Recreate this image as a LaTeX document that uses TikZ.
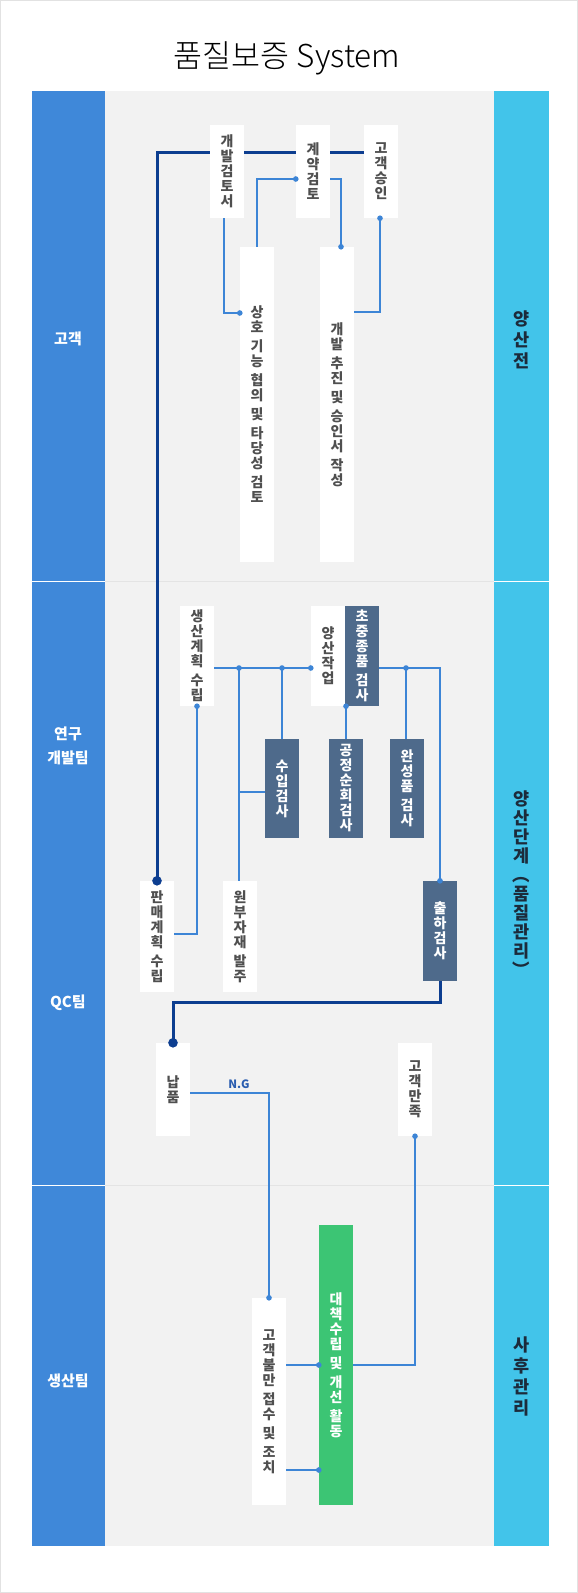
\documentclass[tikz,border=0pt]{standalone}
\usepackage{fontspec}
\setmainfont{Noto Sans CJK KR}
\newfontfamily\titlefont{Noto Sans CJK KR Light}
\usetikzlibrary{calc}
\definecolor{colblue}{HTML}{3F88D9}
\definecolor{colcyan}{HTML}{42C4EA}
\definecolor{bggray}{HTML}{F2F2F2}
\definecolor{sepgray}{HTML}{E4E4E4}
\definecolor{thinblue}{HTML}{3D85D6}
\definecolor{navy}{HTML}{0D3E90}
\definecolor{darkbox}{HTML}{4E6A8B}
\definecolor{greenbox}{HTML}{3CC574}
\definecolor{boxtext}{HTML}{4F4F4F}
\definecolor{rtext}{HTML}{1C2B3B}
\definecolor{ngblue}{HTML}{2A5DB0}
\definecolor{framegray}{HTML}{E2E2E2}
\pgfdeclarelayer{back}\pgfdeclarelayer{mid}\pgfdeclarelayer{front}
\pgfsetlayers{back,mid,main,front}
\tikzset{
 box/.style={minimum width=34pt, inner sep=0pt, align=center, font=\bfseries\fontsize{14}{15}\selectfont},
 wbox/.style={box, fill=white, text=boxtext},
 dbox/.style={box, fill=darkbox, text=white},
 gbox/.style={box, fill=greenbox, text=white},
 ln/.style={draw=thinblue, line width=1.2pt},
 navyln/.style={draw=navy, line width=3pt},
 lanelabel/.style={text=white, font=\bfseries\fontsize{15}{24}\selectfont, align=center},
 phaselabel/.style={text=rtext, font=\bfseries\fontsize{17.5}{21}\selectfont, align=center},
 sdot/.style={fill=thinblue},
 bdot/.style={fill=navy},
}
\begin{document}
\begin{tikzpicture}[x=1pt,y=-1pt]
\useasboundingbox (0,0) rectangle (578,1593);
\begin{pgfonlayer}{back}
\fill[white] (0,0) rectangle (578,1593);
\draw[framegray, line width=1pt] (0.5,0.5) rectangle (577.5,1592.5);
\fill[bggray] (105,91) rectangle (494,1546);
\fill[colblue] (32,91) rectangle (105,1546);
\fill[colcyan] (494,91) rectangle (549,1546);
\foreach \yy in {581,1185}{
 \draw[sepgray, line width=1pt] (105,\yy) -- (494,\yy);
 \draw[white, line width=1pt] (32,\yy) -- (105,\yy);
 \draw[white, line width=1pt] (494,\yy) -- (549,\yy);
}
\end{pgfonlayer}

\node[font=\titlefont\fontsize{31.5}{36}\selectfont, text=black] (title) at (287,58) {품질보증 System};

% lane labels
\node[lanelabel] (l1) at (68,339) {고객};
\node[lanelabel] (l2) at (68,746) {연구\\개발팀};
\node[lanelabel] (l3) at (68,1003) {QC팀};
\node[lanelabel] (l4) at (68,1381) {생산팀};
\node[phaselabel] (p1) at (521.5,340) {양\\산\\전};
\node[phaselabel, font=\bfseries\fontsize{17.5}{19}\selectfont] (p2) at (521.5,884) {양\\산\\단\\계\\︵\\품\\질\\관\\리\\︶};
\node[phaselabel] (p3) at (521.5,1376) {사\\후\\관\\리};

% lane 1 boxes
\node[wbox, minimum height=93pt] (A) at (227,171.5) {개\\발\\검\\토\\서};
\node[wbox, minimum height=93pt] (B) at (313,171.5) {계\\약\\검\\토};
\node[wbox, minimum height=93pt] (C) at (381,171.5) {고\\객\\승\\인};
\node[wbox, minimum height=315pt] (D) at (257,404.5) {상\\호\\[4pt]기\\능\\[4pt]협\\의\\[4pt]및\\[4pt]타\\당\\성\\[4pt]검\\토};
\node[wbox, minimum height=315pt] (E) at (337,404.5) {개\\발\\[4pt]추\\진\\[4pt]및\\[4pt]승\\인\\서\\[4pt]작\\성};

% lane 2 boxes
\node[wbox, minimum height=100pt] (F) at (197,656) {생\\산\\계\\획\\[4pt]수\\립};
\node[wbox, minimum height=100pt] (G) at (328,656) {양\\산\\작\\업};
\node[dbox, minimum height=100pt] (H) at (362,656) {초\\중\\종\\품\\[4pt]검\\사};
\node[dbox, minimum height=99pt] (I) at (282,788.5) {수\\입\\검\\사};
\node[dbox, minimum height=99pt] (J) at (346,788.5) {공\\정\\순\\회\\검\\사};
\node[dbox, minimum height=99pt] (K) at (407,788.5) {완\\성\\품\\[4pt]검\\사};
\node[wbox, minimum height=111pt] (L) at (157,936.5) {판\\매\\계\\획\\[4pt]수\\립};
\node[wbox, minimum height=111pt] (M) at (240,936.5) {원\\부\\자\\재\\[4pt]발\\주};
\node[dbox, minimum height=100pt] (N) at (440,931) {출\\하\\검\\사};
\node[wbox, minimum height=93pt] (O) at (173,1089.5) {납\\품};
\node[wbox, minimum height=93pt] (P) at (415,1089.5) {고\\객\\만\\족};

% lane 3 boxes
\node[wbox, minimum height=207pt] (Q) at (269,1401.5) {고\\객\\불\\만\\[4pt]접\\수\\[4pt]및\\[4pt]조\\치};
\node[gbox, minimum height=280pt] (R) at (336,1365) {대\\책\\수\\립\\[4pt]및\\[4pt]개\\선\\[4pt]활\\동};

\node[font=\bfseries\fontsize{11.5}{13}\selectfont, text=ngblue] (ng) at (239,1084) {N.G};

\coordinate (hl) at (0,668);
\coordinate (j1) at (239,668);
\coordinate (j2) at (282,668);
\coordinate (j3) at (406,668);
\coordinate (ein) at ([xshift=4pt]E.north);
\coordinate (cout) at ([xshift=-1pt]C.south);
\coordinate (aout) at ([xshift=-3pt]A.south);
\coordinate (din) at (D.west |- 0,313);
\coordinate (bin) at (B.west |- 0,179);
\coordinate (gin) at (G.west |- hl);
\coordinate (hout) at (J.north |- H.south);
\coordinate (rin1) at (R.west |- 0,1365);
\coordinate (rin2) at (R.west |- 0,1470);

\begin{pgfonlayer}{mid}
% thick flow
\draw[navyln] (C.west |- 0,152) -| (L.north);
\draw[navyln] (N.south) -- (N.south |- 0,1002) -| (O.north);
% thin connectors
\draw[ln] (aout) |- (din);
\draw[ln] (D.north) |- (bin);
\draw[ln] (B.east |- 0,179) -| (ein);
\draw[ln] (cout) |- (E.east |- 0,312);
\draw[ln] (F.south) |- (L.east |- 0,934);
\draw[ln] (F.east |- hl) -- (gin);
\draw[ln] (j1) -- (j1 |- M.north);
\draw[ln] (j1 |- 0,792) -- (I.west |- 0,792);
\draw[ln] (j2) -- (I.north);
\draw[ln] (J.north) -- (hout);
\draw[ln] (H.east |- hl) -| (N.north);
\draw[ln] (j3) -- (j3 |- K.north);
\draw[ln] (O.east |- 0,1093) -| (Q.north);
\draw[ln] (P.south) |- (R.east |- 0,1365);
\draw[ln] (Q.east |- 0,1365) -- (rin1);
\draw[ln] (Q.east |- 0,1470) -- (rin2);
\end{pgfonlayer}

\begin{pgfonlayer}{front}
\foreach \pp in {din,bin,ein,cout,F.south,gin,j1,j2,hout,j3,N.north,Q.north,P.south,rin1,rin2}{
 \fill[sdot] (\pp) circle (2.8pt);
}
\fill[bdot] (L.north) circle (4.8pt);
\fill[bdot] (O.north) circle (4.8pt);
\end{pgfonlayer}
\end{tikzpicture}
\end{document}
